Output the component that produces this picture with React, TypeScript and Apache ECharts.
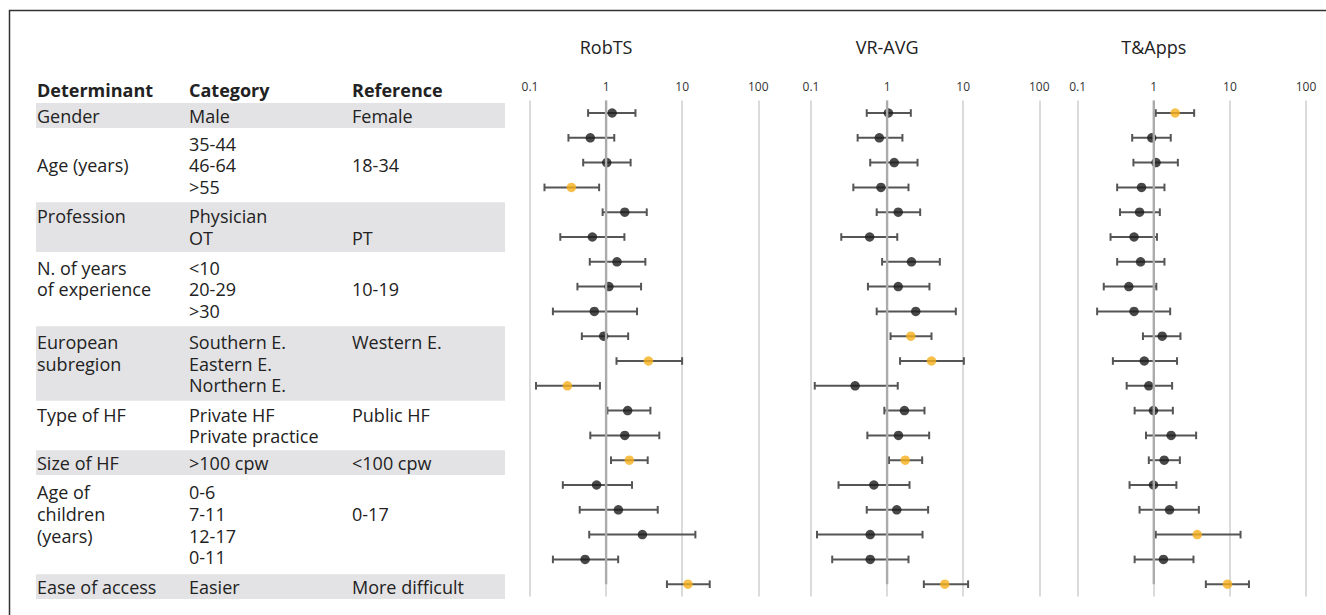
import React, { useEffect, useRef } from "react";
import * as echarts from "echarts";

// ---------- DATA ----------
const panelTitles = ["RobTS", "VR-AVG", "T&Apps"];
const tickValues = [0.1, 1, 10, 100];

const headerLabels = ["Determinant", "Category", "Reference"];

const groupDeterminant: string[][] = [
  ["Gender"],
  ["", "Age (years)", ""],
  ["Profession", ""],
  ["N. of years", "of experience", ""],
  ["European", "subregion", ""],
  ["Type of HF", ""],
  ["Size of HF"],
  ["Age of", "children", "(years)", ""],
  ["Ease of access"],
];
const groupCategory: string[][] = [
  ["Male"],
  ["35-44", "46-64", ">55"],
  ["Physician", "OT"],
  ["<10", "20-29", ">30"],
  ["Southern E.", "Eastern E.", "Northern E."],
  ["Private HF", "Private practice"],
  [">100 cpw"],
  ["0-6", "7-11", "12-17", "0-11"],
  ["Easier"],
];
const groupReference: string[][] = [
  ["Female"],
  ["", "18-34", ""],
  ["", "PT"],
  ["", "10-19", ""],
  ["Western E.", "", ""],
  ["Public HF", ""],
  ["<100 cpw"],
  ["", "0-17", "", ""],
  ["More difficult"],
];

// RobTS
const robtsOR = [1.2, 0.62, 1.02, 0.35, 1.76, 0.66, 1.39, 1.09, 0.7, 0.93, 3.6, 0.31, 1.92, 1.76, 2.02, 0.75, 1.45, 3.0, 0.53, 11.9];
const robtsLo = [0.58, 0.32, 0.5, 0.155, 0.9, 0.25, 0.61, 0.42, 0.2, 0.48, 1.37, 0.12, 1.04, 0.62, 1.16, 0.27, 0.45, 0.6, 0.2, 6.3];
const robtsHi = [2.43, 1.28, 2.1, 0.81, 3.42, 1.74, 3.28, 2.88, 2.55, 1.95, 9.97, 0.83, 3.82, 5.0, 3.52, 2.19, 4.77, 14.9, 1.44, 23];
const robtsSig = [3, 10, 11, 14, 19];

// VR-AVG
const vrOR = [1.04, 0.79, 1.24, 0.83, 1.4, 0.59, 2.09, 1.4, 2.38, 2.05, 3.83, 0.38, 1.69, 1.41, 1.73, 0.67, 1.34, 0.6, 0.6, 5.73];
const vrLo = [0.54, 0.41, 0.6, 0.36, 0.73, 0.25, 0.86, 0.56, 0.73, 1.11, 1.48, 0.112, 0.92, 0.55, 1.06, 0.23, 0.54, 0.12, 0.19, 3.04];
const vrHi = [2.05, 1.59, 2.51, 1.91, 2.72, 1.36, 4.93, 3.6, 8.0, 3.83, 10.2, 1.38, 3.1, 3.57, 2.89, 1.97, 3.46, 2.92, 1.91, 11.6];
const vrSig = [9, 10, 14, 19];

// T&Apps
const taOR = [1.91, 0.94, 1.07, 0.69, 0.65, 0.55, 0.67, 0.47, 0.55, 1.29, 0.75, 0.86, 0.99, 1.69, 1.37, 0.99, 1.61, 3.72, 1.34, 9.3];
const taLo = [1.06, 0.52, 0.54, 0.33, 0.36, 0.27, 0.33, 0.22, 0.18, 0.72, 0.29, 0.44, 0.56, 0.79, 0.86, 0.48, 0.65, 1.06, 0.56, 4.83];
const taHi = [3.39, 1.67, 2.07, 1.38, 1.2, 1.1, 1.38, 1.08, 1.64, 2.24, 2.02, 1.74, 1.78, 3.6, 2.2, 1.98, 3.91, 13.8, 3.32, 17.8];
const taSig = [0, 17, 19];

// ---------- LAYOUT / STYLE ----------
const W = 1326;
const H = 615;
const FONT = "'Open Sans', 'Noto Sans', sans-serif";
const GRID_TOP = 100.6;
const GRID_H = 496;
const GRID_W = 228.3;
const GRID_LEFTS = [530, 811, 1077.7];
const TEXT_COLOR = "#222";
const ORANGE = "#f6b01c";
const DOT = "#1b1b1b";
const BAR = "#555";

export default function App() {
  const ref = useRef<HTMLDivElement>(null);

  useEffect(() => {
    if (!ref.current) return;
    const chart = echarts.init(ref.current, null, { renderer: "svg" });

    const nRows = groupCategory.reduce((s, g) => s + g.length, 0);
    const rowIds = Array.from({ length: nRows }, (_, i) => String(i));
    const rowH = GRID_H / nRows;

    const panels = [
      { or: robtsOR, lo: robtsLo, hi: robtsHi, sig: robtsSig },
      { or: vrOR, lo: vrLo, hi: vrHi, sig: vrSig },
      { or: taOR, lo: taLo, hi: taHi, sig: taSig },
    ];

    const grids = GRID_LEFTS.map((l) => ({
      left: l,
      width: GRID_W,
      top: GRID_TOP,
      height: GRID_H,
    }));

    const xAxes = GRID_LEFTS.map((_, i) => ({
      type: "log",
      logBase: 10,
      gridIndex: i,
      min: tickValues[0],
      max: tickValues[tickValues.length - 1],
      position: "top",
      axisLine: { show: false },
      axisTick: { show: false },
      axisLabel: {
        fontSize: 12,
        color: "#333",
        fontFamily: FONT,
        margin: 8,
        formatter: (v: number) => String(v),
      },
      splitLine: { show: true, lineStyle: { color: "#d2d2d2", width: 1.6 } },
    }));

    const yAxes = GRID_LEFTS.map((_, i) => ({
      type: "category",
      gridIndex: i,
      data: rowIds,
      inverse: true,
      show: false,
    }));

    const series: any[] = [];
    panels.forEach((p, i) => {
      series.push({
        type: "custom",
        xAxisIndex: i,
        yAxisIndex: i,
        z: 2,
        encode: { x: [1, 2], y: 0 },
        data: p.lo.map((lo, r) => [r, lo, p.hi[r]]),
        renderItem: (params: any, api: any) => {
          const r = api.value(0);
          const a = api.coord([api.value(1), r]);
          const b = api.coord([api.value(2), r]);
          const h = 3.8;
          const st = { stroke: BAR, lineWidth: 2 };
          return {
            type: "group",
            children: [
              { type: "line", shape: { x1: a[0], y1: a[1], x2: b[0], y2: b[1] }, style: st },
              { type: "line", shape: { x1: a[0], y1: a[1] - h, x2: a[0], y2: a[1] + h }, style: st },
              { type: "line", shape: { x1: b[0], y1: b[1] - h, x2: b[0], y2: b[1] + h }, style: st },
            ],
          };
        },
      });
      series.push({
        type: "scatter",
        xAxisIndex: i,
        yAxisIndex: i,
        z: 3,
        symbol: "circle",
        symbolSize: 9.5,
        data: p.or.map((v, r) => ({
          value: [v, r],
          itemStyle: { color: p.sig.includes(r) ? ORANGE : DOT },
        })),
      });
      series.push({
        type: "custom",
        xAxisIndex: i,
        yAxisIndex: i,
        z: 5,
        encode: { x: 0, y: 1 },
        data: [[1, nRows - 1]],
        renderItem: (params: any, api: any) => {
          const cs = params.coordSys;
          const pt = api.coord([api.value(0), api.value(1)]);
          return {
            type: "line",
            shape: { x1: pt[0], y1: cs.y, x2: pt[0], y2: pt[1] },
            style: { stroke: "#ababab", lineWidth: 2.4 },
          };
        },
      });
    });

    // ---------- table graphics ----------
    const graphics: any[] = [];
    graphics.push({
      type: "rect",
      shape: { x: 9.5, y: 10.5, width: 1400, height: 700 },
      style: { fill: "none", stroke: "#333", lineWidth: 1.5 },
      silent: true,
    });

    const colX = [37, 189, 352];
    const bandX0 = 36;
    const bandX1 = 505;
    const offset = 2.5;
    const lineH = 21.6;
    const textSize = 18;

    headerLabels.forEach((t, c) => {
      graphics.push({
        type: "text",
        x: colX[c],
        y: 90,
        style: {
          text: t,
          fontSize: textSize,
          fontWeight: "bold",
          fontFamily: FONT,
          fill: TEXT_COLOR,
          verticalAlign: "middle",
          align: "left",
        },
      });
    });

    let start = 0;
    groupCategory.forEach((cat, g) => {
      const n = cat.length;
      const y0 = GRID_TOP + start * rowH + offset;
      const y1 = GRID_TOP + (start + n) * rowH + offset;
      if (g % 2 === 0) {
        graphics.push({
          type: "rect",
          z: -1,
          shape: { x: bandX0, y: y0, width: bandX1 - bandX0, height: y1 - y0 },
          style: { fill: "#e3e3e5" },
          silent: true,
        });
      }
      const cols = [groupDeterminant[g], cat, groupReference[g]];
      cols.forEach((lines, c) => {
        graphics.push({
          type: "text",
          x: colX[c],
          y: (y0 + y1) / 2,
          style: {
            text: lines.map((s) => (s === "" ? "\u00a0" : s)).join("\n"),
            fontSize: textSize,
            lineHeight: lineH,
            fontFamily: FONT,
            fill: TEXT_COLOR,
            verticalAlign: "middle",
            align: "left",
          },
        });
      });
      start += n;
    });

    // panel titles centered above value 1
    const logMin = Math.log10(tickValues[0]);
    const logMax = Math.log10(tickValues[tickValues.length - 1]);
    const fracOne = (0 - logMin) / (logMax - logMin);
    panelTitles.forEach((t, i) => {
      graphics.push({
        type: "text",
        x: GRID_LEFTS[i] + GRID_W * fracOne,
        y: 47,
        style: {
          text: t,
          fontSize: 18,
          fontFamily: FONT,
          fill: TEXT_COLOR,
          align: "center",
          verticalAlign: "middle",
        },
      });
    });

    chart.setOption({
      animation: false,
      backgroundColor: "#fff",
      grid: grids,
      xAxis: xAxes,
      yAxis: yAxes,
      series,
      graphic: graphics,
    });

    return () => chart.dispose();
  }, []);

  return (
    <div
      ref={ref}
      style={{ position: "fixed", left: 0, top: 0, width: W, height: H }}
    />
  );
}
